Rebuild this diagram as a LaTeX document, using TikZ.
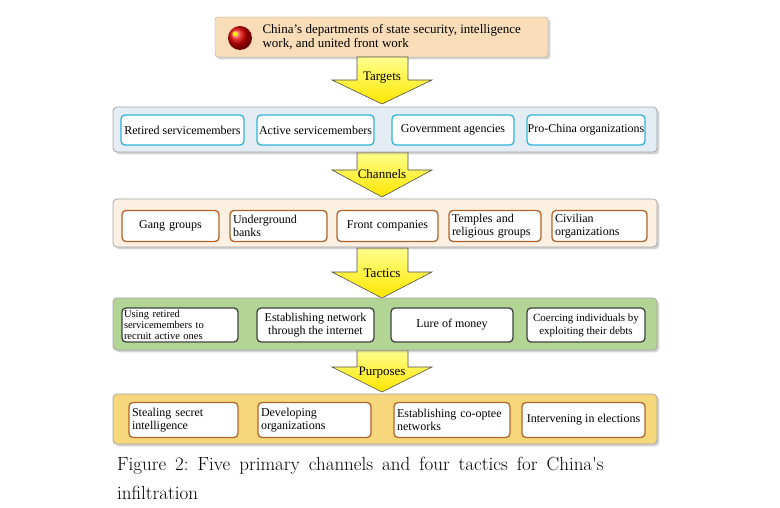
\documentclass[tikz,border=0pt]{standalone}
\usepackage{fontspec}
\setmainfont{Liberation Serif}
\newfontfamily\capfont{Latin Modern Roman}
\usetikzlibrary{shadows,shapes.geometric}
\definecolor{bandblue}{HTML}{E4ECF4}
\definecolor{bandtan}{HTML}{FBF0E2}
\definecolor{bandgreen}{HTML}{B2D596}
\definecolor{bandgold}{HTML}{F6D77C}
\definecolor{boxcyan}{HTML}{2FB3D6}
\definecolor{boxbrown}{HTML}{B0642A}
\definecolor{topfill}{HTML}{F9DDB8}
\tikzset{
  band/.style = {draw=gray!70, rounded corners=4pt, line width=0.8pt, drop shadow={opacity=0.35}},
  item/.style = {draw, fill=white, rounded corners=4pt, line width=1.3pt, align=left, font=\fontsize{12}{13}\selectfont},
  stagearrow/.style = {draw=black!70, line width=0.6pt, top color=yellow!45!white, bottom color=yellow!80!orange},
  stagelabel/.style = {font=\fontsize{13}{14}\selectfont}
}
\newcommand{\stagearrowat}[3]{% shaft top, head top, tip
  \path[stagearrow] (357,#1) -- (408,#1) -- (408,#2) -- (432,#2) -- (382,#3) -- (332,#2) -- (357,#2) -- cycle;}
\begin{document}
\begin{tikzpicture}[x=1pt, y=-1pt]
\useasboundingbox (0,0) rectangle (780,508);
% top source box
\node[draw=gray!70, fill=topfill, rounded corners=3pt, minimum width=333pt, minimum height=40pt, drop shadow={opacity=0.35}] (source) at (381.5,37) {};
\shade[ball color=red!90!black] (240,38) circle (12pt);
\node[star, star points=5, fill=yellow, inner sep=0pt, minimum size=6pt] (flagstar) at (235,34) {};
\node[anchor=west, align=left, font=\fontsize{13}{14}\selectfont] (sourcetext) at (259,37) {China's departments of state security, intelligence\\work, and united front work};
% arrows
\stagearrowat{57}{80}{104}
\stagearrowat{152}{170}{197}
\stagearrowat{248}{272}{298}
\stagearrowat{350}{367}{392}
\node[stagelabel] (targets) at (382,78) {Targets};
\node[stagelabel] (channels) at (382,174) {Channels};
\node[stagelabel] (tactics) at (382,273) {Tactics};
\node[stagelabel] (purposes) at (382,373) {Purposes};
% bands
\path[band, fill=bandblue] (113,107) rectangle (657,152);
\path[band, fill=bandtan] (113,199) rectangle (657,247);
\path[band, fill=bandgreen] (113,298) rectangle (657,350);
\path[band, fill=bandgold] (113,394) rectangle (657,444);
% targets
\foreach \a/\b/\t [count=\i] in {121/244/Retired servicemembers, 257/374/Active servicemembers, 392/514/Government agencies, 527/645/Pro-China organizations}
  \node[item, draw=boxcyan, align=center, minimum width=\b-\a, minimum height=30pt, inner sep=0pt] (target\i) at ({(\a+\b)/2},130) {\t};
% channels
\foreach \a/\b/\t/\s [count=\i] in {119/222/Gang groups/center, 227/330/{Underground\\banks}/left, 334/441/Front companies/center, 446/544/{Temples and\\religious groups}/left, 549/650/{Civilian\\organizations}/left}
  \node[item, draw=boxbrown, align=\s, text width=\b-\a-12, minimum height=31pt, inner sep=3pt] (channel\i) at ({(\a+\b)/2},226) {\t};
% tactics
\node[item, draw=black!75, font=\fontsize{10.5}{11}\selectfont, text width=112pt, minimum height=34pt, inner sep=2pt] (tactic1) at (180,325) {Using retired\\servicemembers to\\recruit active ones};
\foreach \a/\b/\t/\f [count=\i from 2] in {257/374/{Establishing network\\through the internet}/12, 391/513/Lure of money/12, 527/645/{Coercing individuals by\\exploiting their debts}/11}
  \node[item, draw=black!75, align=center, font=\fontsize{\f}{13}\selectfont, minimum width=\b-\a, minimum height=34pt, inner sep=0pt] (tactic\i) at ({(\a+\b)/2},325) {\t};
% purposes
\foreach \a/\b/\t [count=\i] in {126/241/{Stealing secret\\intelligence}, 255/374/{Developing\\organizations}, 391/513/{Establishing co-optee\\networks}}
  \node[item, draw=boxbrown, text width=\b-\a-12, minimum height=35pt, inner sep=3pt] (purpose\i) at ({(\a+\b)/2},420) {\t};
\node[item, draw=boxbrown, align=center, minimum width=123pt, minimum height=35pt, inner sep=0pt] (purpose4) at (583.5,420) {Intervening in elections};
% caption
\node[anchor=west, inner sep=0pt, font=\capfont\fontsize{19}{27}\selectfont] (caption1) at (117,466) {Figure\hspace{9pt}2:\hspace{9pt}Five\hspace{9pt}primary\hspace{9pt}channels\hspace{9pt}and\hspace{9pt}four\hspace{9pt}tactics\hspace{9pt}for\hspace{9pt}China's};
\node[anchor=west, inner sep=0pt, font=\capfont\fontsize{19}{27}\selectfont] (caption2) at (117,493) {infiltration};
\end{tikzpicture}
\end{document}
